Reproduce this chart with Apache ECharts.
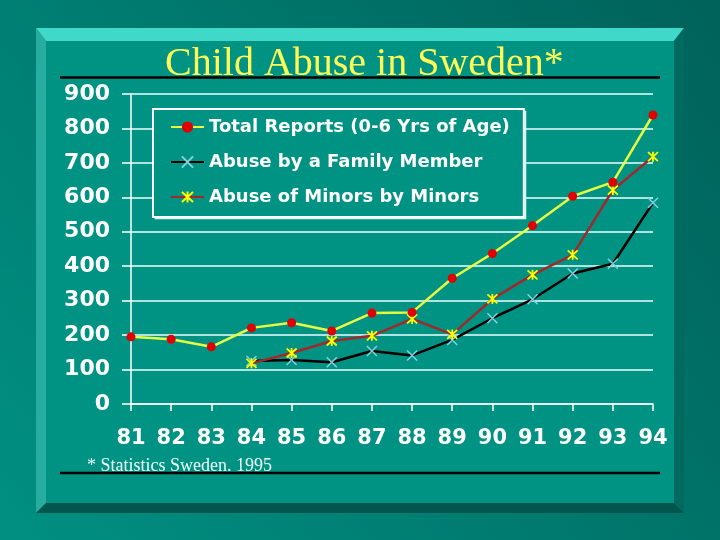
<!DOCTYPE html>
<html><head><meta charset="utf-8">
<script src="https://cdn.jsdelivr.net/npm/echarts@6/dist/echarts.min.js"></script>
<style>html,body{margin:0;padding:0;background:#007a6e}#c{width:720px;height:540px}</style>
</head><body><div id="c"></div>
<script>
const years = ['81','82','83','84','85','86','87','88','89','90','91','92','93','94'];
const totalReports = [195,188,166,221,236,212,264,266,365,437,518,603,644,839];
const familyAbuse = [null,null,null,125,128,121,154,141,186,249,304,379,407,584];
const minorsAbuse = [null,null,null,118,148,183,198,247,202,305,375,433,621,718];
const seriesNames = ['Total Reports (0-6 Yrs of Age)','Abuse by a Family Member','Abuse of Minors by Minors'];
const titleText = 'Child Abuse in Sweden*';
const noteText = '* Statistics Sweden. 1995';

const FACE = '#009283';
const chart = echarts.init(document.getElementById('c'));
const xPath = 'path://M0,0L10,10M10,0L0,10';
const starPath = 'path://M5,0L5,10M0.5,0.5L9.5,9.5M9.5,0.5L0.5,9.5';

chart.setOption({
  animation: false,
  backgroundColor: {type:'linear', x:1, y:0, x2:0, y2:1, colorStops:[{offset:0,color:'#00625a'},{offset:1,color:'#009082'}]},
  title: {
    text: titleText, left: 165, top: 44, padding: 0,
    textStyle: {fontFamily:'Liberation Serif', fontWeight:'normal', fontSize:40, lineHeight:40,
      color:'#ffff55', textShadowColor:'#003a33', textShadowOffsetX:2, textShadowOffsetY:2, textShadowBlur:0}
  },
  graphic: [
    {type:'polygon', z:-10, shape:{points:[[36,28],[684,28],[674,41],[46,41]]}, style:{fill:'#40d9c9'}},
    {type:'polygon', z:-10, shape:{points:[[36,28],[46,41],[46,503],[36,513]]}, style:{fill:'#26ad9f'}},
    {type:'polygon', z:-10, shape:{points:[[684,28],[684,513],[674,503],[674,41]]}, style:{fill:'#006a61'}},
    {type:'polygon', z:-10, shape:{points:[[36,513],[684,513],[674,503],[46,503]]}, style:{fill:'#00564d'}},
    {type:'rect', z:-10, shape:{x:46,y:41,width:628,height:462}, style:{fill:FACE}},
    {type:'line', z:10, shape:{x1:60,y1:77.5,x2:660,y2:77.5}, style:{stroke:'#000000', lineWidth:2.5}},
    {type:'line', z:10, shape:{x1:60,y1:473,x2:660,y2:473}, style:{stroke:'#000000', lineWidth:2.5}},
    {type:'rect', z:3, shape:{x:155.5,y:111.5,width:370,height:107}, style:{fill:FACE, stroke:'#d8f8f4', lineWidth:1.5}},
    {type:'text', z:10, x:87, y:466, style:{text:noteText, fontFamily:'Liberation Serif', fontSize:18,
      fill:'#f0fff8', verticalAlign:'middle', align:'left'}}
  ],
  legend: {
    orient:'vertical', left:153, top:109, padding:[8,14,10,17], itemGap:15,
    itemWidth:33, itemHeight:14, backgroundColor:FACE, borderColor:'#ffffff', borderWidth:2,
    textStyle:{fontFamily:'DejaVu Sans', fontWeight:'bold', fontSize:18, lineHeight:20, color:'#ffffff'},
    data: seriesNames
  },
  grid: {left:131, right:67, top:94, bottom:136},
  xAxis: {
    type:'category', data: years, boundaryGap:false,
    axisLine:{lineStyle:{color:'#ffffff', width:1.5}},
    axisTick:{show:true, length:7, lineStyle:{color:'#ffffff', width:1.5}},
    axisLabel:{margin:24, fontFamily:'DejaVu Sans', fontWeight:'bold', fontSize:21, color:'#ffffff'}
  },
  yAxis: {
    type:'value', min:0, max:900, interval:100,
    axisLine:{show:true, lineStyle:{color:'#ffffff', width:1.5}},
    axisTick:{show:true, length:9, lineStyle:{color:'#ffffff', width:1.5}},
    splitLine:{lineStyle:{color:'#eaffff', width:1.5}},
    axisLabel:{margin:21, fontFamily:'DejaVu Sans', fontWeight:'bold', fontSize:22, color:'#ffffff'}
  },
  series: [
    {name:seriesNames[0], type:'line', data: totalReports, symbol:'circle', symbolSize:9,
      lineStyle:{color:'#e6ff40', width:2.5}, itemStyle:{color:'#e00000', borderColor:'#e00000', borderWidth:0}, z:4},
    {name:seriesNames[1], type:'line', data: familyAbuse, symbol:xPath, symbolSize:10,
      lineStyle:{color:'#000000', width:2.5}, itemStyle:{color:'#7fd4e0', borderColor:'#7fd4e0', borderWidth:1.5}, z:2},
    {name:seriesNames[2], type:'line', data: minorsAbuse, symbol:starPath, symbolSize:10,
      lineStyle:{color:'#a02a2a', width:2.5}, itemStyle:{color:'#ffff00', borderColor:'#ffff00', borderWidth:1.8}, z:3}
  ]
});
</script></body></html>
